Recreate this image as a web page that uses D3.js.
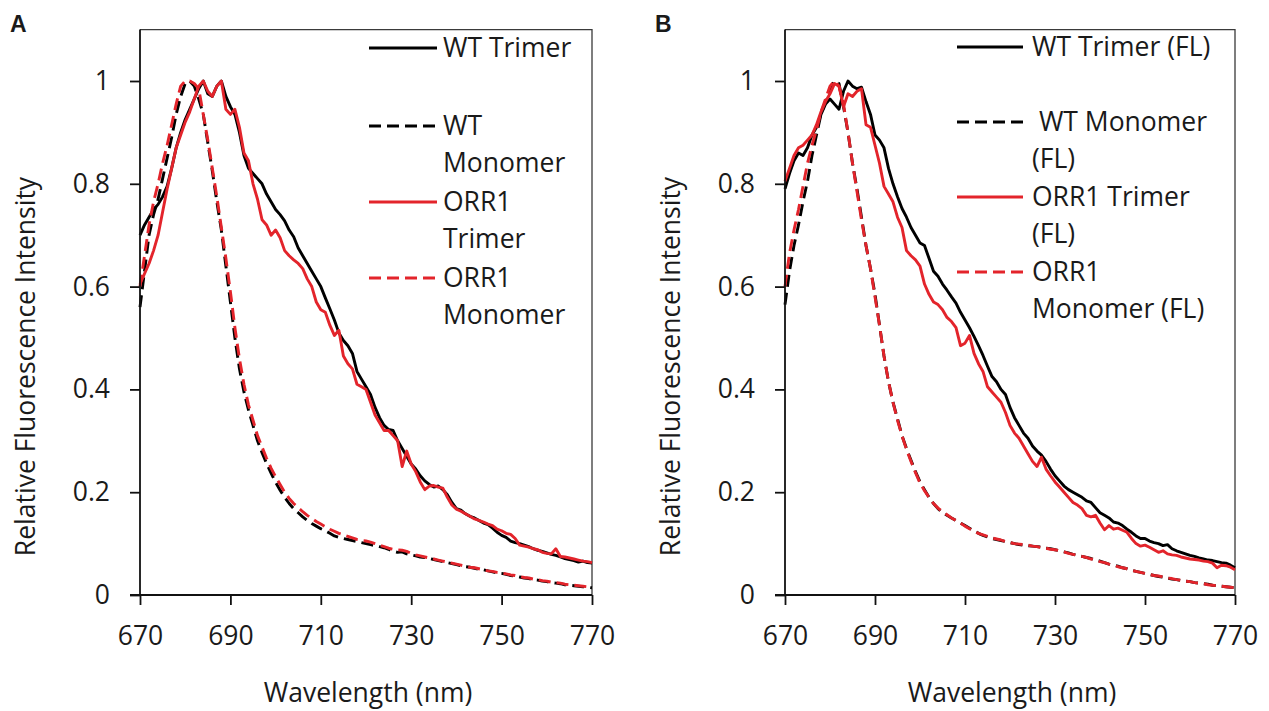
<!DOCTYPE html>
<html>
<head>
<meta charset="utf-8">
<script src="https://cdn.jsdelivr.net/npm/d3@7"></script>
<style>
  html, body { margin: 0; padding: 0; background: #fff; }
  svg { display: block; }
  text { font-family: "Open Sans", sans-serif; fill: #1a1a1a; white-space: pre; }
</style>
</head>
<body>
<svg id="chart" width="1269" height="711"></svg>
<script>
// ---------- DATA ----------
const wavelengths = d3.range(670, 771, 1); // sampling grid, nm
const xTicks = [670, 690, 710, 730, 750, 770];
const yTicks = [0, 0.2, 0.4, 0.6, 0.8, 1];
const yTickLabels = ["0", "0.2", "0.4", "0.6", "0.8", "1"];
const panelLetters = ["A", "B"];
const xTitle = "Wavelength (nm)";
const yTitle = "Relative Fluorescence Intensity";

const legendA = [["WT Trimer"], ["WT", "Monomer"], ["ORR1", "Trimer"], ["ORR1", "Monomer"]];
const legendB = [["WT Trimer (FL)"], [" WT Monomer", "(FL)"], ["ORR1 Trimer", "(FL)"], ["ORR1", "Monomer (FL)"]];

const wtTrimerA = [
  0.70, 0.72, 0.735, 0.75, 0.76, 0.775, 0.795, 0.83, 0.87, 0.90,
  0.925, 0.945, 0.965, 0.985, 1.0, 0.975, 0.97, 0.99, 1.0, 0.97,
  0.95, 0.935, 0.90, 0.855, 0.83, 0.82, 0.81, 0.80, 0.78, 0.765,
  0.75, 0.74, 0.728, 0.71, 0.697, 0.675, 0.66, 0.645, 0.63, 0.615,
  0.60, 0.578, 0.557, 0.535, 0.51, 0.495, 0.485, 0.47, 0.435, 0.42,
  0.405, 0.39, 0.365, 0.345, 0.33, 0.322, 0.32, 0.30, 0.285, 0.27,
  0.255, 0.245, 0.232, 0.222, 0.215, 0.21, 0.212, 0.205, 0.195, 0.18,
  0.168, 0.165, 0.158, 0.153, 0.15, 0.145, 0.14, 0.137, 0.13, 0.122,
  0.116, 0.112, 0.105, 0.102, 0.10, 0.097, 0.094, 0.09, 0.087, 0.085,
  0.082, 0.079, 0.077, 0.074, 0.071, 0.069, 0.067, 0.064, 0.066, 0.063,
  0.062];
const wtMonomerA = [
  0.56, 0.63, 0.70, 0.74, 0.77, 0.81, 0.85, 0.89, 0.935, 0.97,
  0.995, 1.0, 0.99, 0.965, 0.935, 0.88, 0.825, 0.765, 0.71, 0.64,
  0.57, 0.50, 0.44, 0.395, 0.36, 0.33, 0.30, 0.277, 0.256, 0.237,
  0.219, 0.204, 0.19, 0.178, 0.168, 0.16, 0.152, 0.145, 0.139, 0.134,
  0.129, 0.125, 0.12, 0.115, 0.112, 0.11, 0.108, 0.106, 0.104, 0.102,
  0.10, 0.098, 0.096, 0.094, 0.092, 0.089, 0.085, 0.083, 0.084, 0.08,
  0.078, 0.076, 0.074, 0.073, 0.071, 0.069, 0.067, 0.065, 0.063, 0.061,
  0.059, 0.057, 0.055, 0.054, 0.052, 0.05, 0.049, 0.047, 0.045, 0.043,
  0.042, 0.04, 0.038, 0.037, 0.035, 0.033, 0.032, 0.03, 0.029, 0.027,
  0.026, 0.024, 0.023, 0.022, 0.02, 0.019, 0.018, 0.017, 0.016, 0.015,
  0.014];
const orrTrimerA = [
  0.605, 0.625, 0.645, 0.67, 0.70, 0.745, 0.79, 0.83, 0.87, 0.895,
  0.92, 0.94, 0.965, 0.99, 1.0, 0.98, 0.97, 0.99, 1.0, 0.945,
  0.935, 0.945, 0.91, 0.86, 0.845, 0.80, 0.77, 0.73, 0.72, 0.70,
  0.71, 0.695, 0.67, 0.66, 0.652, 0.645, 0.635, 0.615, 0.60, 0.57,
  0.555, 0.55, 0.525, 0.505, 0.515, 0.465, 0.45, 0.44, 0.41, 0.405,
  0.40, 0.375, 0.35, 0.335, 0.32, 0.32, 0.31, 0.30, 0.25, 0.28,
  0.255, 0.24, 0.22, 0.205, 0.212, 0.213, 0.21, 0.208, 0.19, 0.175,
  0.167, 0.163, 0.158, 0.153, 0.148, 0.145, 0.142, 0.138, 0.135, 0.128,
  0.125, 0.12, 0.118, 0.11, 0.097, 0.095, 0.093, 0.09, 0.088, 0.083,
  0.081, 0.08, 0.09, 0.075, 0.074, 0.072, 0.07, 0.068, 0.066, 0.065,
  0.063];
const orrMonomerA = [
  0.60, 0.66, 0.72, 0.765, 0.80, 0.84, 0.875, 0.915, 0.955, 0.99,
  1.0, 1.0, 0.995, 0.985, 0.935, 0.885, 0.83, 0.775, 0.715, 0.655,
  0.59, 0.52, 0.46, 0.41, 0.37, 0.34, 0.31, 0.288, 0.266, 0.247,
  0.23, 0.215, 0.20, 0.188, 0.178, 0.17, 0.162, 0.155, 0.149, 0.143,
  0.138, 0.133, 0.128, 0.124, 0.12, 0.117, 0.114, 0.111, 0.108, 0.106,
  0.105, 0.103, 0.10, 0.097, 0.094, 0.091, 0.089, 0.088, 0.087, 0.085,
  0.081, 0.078, 0.076, 0.074, 0.072, 0.07, 0.068, 0.066, 0.064, 0.062,
  0.06, 0.058, 0.056, 0.054, 0.053, 0.051, 0.049, 0.047, 0.046, 0.044,
  0.043, 0.041, 0.039, 0.038, 0.036, 0.034, 0.033, 0.031, 0.03, 0.028,
  0.027, 0.025, 0.024, 0.023, 0.021, 0.02, 0.019, 0.018, 0.017, 0.016,
  0.014];

const wtTrimerB = [
  0.79, 0.82, 0.845, 0.86, 0.855, 0.87, 0.895, 0.91, 0.935, 0.955,
  0.965, 0.955, 0.945, 0.98, 1.0, 0.99, 0.985, 0.988, 0.96, 0.935,
  0.895, 0.885, 0.87, 0.83, 0.80, 0.775, 0.752, 0.735, 0.715, 0.70,
  0.685, 0.68, 0.655, 0.63, 0.62, 0.605, 0.593, 0.58, 0.568, 0.55,
  0.535, 0.52, 0.503, 0.485, 0.466, 0.445, 0.425, 0.415, 0.40, 0.39,
  0.365, 0.345, 0.33, 0.315, 0.305, 0.29, 0.28, 0.272, 0.26, 0.245,
  0.232, 0.222, 0.212, 0.205, 0.20, 0.195, 0.19, 0.183, 0.18, 0.17,
  0.16, 0.155, 0.15, 0.142, 0.14, 0.135, 0.128, 0.122, 0.115, 0.11,
  0.11, 0.105, 0.102, 0.10, 0.096, 0.098, 0.09, 0.086, 0.083, 0.08,
  0.077, 0.075, 0.072, 0.07, 0.068, 0.067, 0.065, 0.063, 0.062, 0.058,
  0.053];
const wtMonomerB = [
  0.565, 0.63, 0.68, 0.72, 0.765, 0.805, 0.855, 0.895, 0.935, 0.96,
  0.985, 1.0, 0.995, 0.95, 0.90, 0.84, 0.79, 0.735, 0.68, 0.635,
  0.585, 0.525, 0.465, 0.415, 0.375, 0.343, 0.31, 0.285, 0.262, 0.24,
  0.22, 0.205, 0.19, 0.178, 0.168, 0.16, 0.155, 0.15, 0.145, 0.14,
  0.135, 0.13, 0.125, 0.12, 0.116, 0.113, 0.11, 0.108, 0.106, 0.104,
  0.102, 0.1, 0.098, 0.097, 0.096, 0.095, 0.094, 0.093, 0.091, 0.09,
  0.088, 0.086, 0.084, 0.082, 0.079, 0.077, 0.075, 0.073, 0.071, 0.068,
  0.066, 0.063, 0.06, 0.058, 0.056, 0.053, 0.051, 0.048, 0.046, 0.044,
  0.042, 0.04, 0.038, 0.036, 0.035, 0.033, 0.031, 0.03, 0.028, 0.027,
  0.026, 0.024, 0.023, 0.022, 0.021, 0.019, 0.018, 0.017, 0.016, 0.015,
  0.014];
const orrTrimerB = [
  0.805, 0.83, 0.855, 0.87, 0.875, 0.885, 0.895, 0.915, 0.94, 0.96,
  0.975, 0.995, 0.99, 0.95, 0.975, 0.97, 0.98, 0.985, 0.915, 0.91,
  0.875, 0.84, 0.795, 0.78, 0.765, 0.735, 0.715, 0.67, 0.66, 0.652,
  0.64, 0.605, 0.585, 0.57, 0.565, 0.555, 0.54, 0.532, 0.52, 0.485,
  0.49, 0.505, 0.47, 0.45, 0.435, 0.405, 0.395, 0.385, 0.375, 0.355,
  0.33, 0.315, 0.305, 0.29, 0.275, 0.26, 0.25, 0.268, 0.245, 0.232,
  0.22, 0.21, 0.2, 0.19, 0.18, 0.175, 0.168, 0.155, 0.152, 0.155,
  0.14, 0.127, 0.135, 0.128, 0.13, 0.126, 0.122, 0.11, 0.1, 0.095,
  0.097, 0.093, 0.088, 0.083, 0.086, 0.08, 0.078, 0.077, 0.074, 0.072,
  0.07, 0.069, 0.068, 0.066, 0.065, 0.062, 0.053, 0.058, 0.057, 0.054,
  0.049];
const orrMonomerB = [
  0.60, 0.665, 0.71, 0.75, 0.795, 0.84, 0.875, 0.905, 0.94, 0.965,
  0.99, 1.0, 0.99, 0.955, 0.90, 0.84, 0.785, 0.73, 0.68, 0.635,
  0.58, 0.525, 0.465, 0.415, 0.375, 0.34, 0.31, 0.283, 0.26, 0.238,
  0.218, 0.203, 0.19, 0.178, 0.169, 0.162, 0.156, 0.15, 0.145, 0.14,
  0.134, 0.129, 0.124, 0.12, 0.117, 0.114, 0.111, 0.109, 0.107, 0.104,
  0.102, 0.1, 0.099, 0.098, 0.097, 0.095, 0.094, 0.092, 0.091, 0.089,
  0.088, 0.086, 0.084, 0.081, 0.079, 0.077, 0.075, 0.073, 0.07, 0.068,
  0.065, 0.063, 0.06, 0.058, 0.055, 0.053, 0.051, 0.048, 0.046, 0.044,
  0.042, 0.04, 0.038, 0.037, 0.035, 0.033, 0.032, 0.03, 0.029, 0.027,
  0.026, 0.024, 0.023, 0.022, 0.02, 0.019, 0.018, 0.017, 0.016, 0.015,
  0.014];

// ---------- STYLE / LAYOUT ----------
const BLACK = "#000000", RED = "#e3242b";
const FS = 26.5;
const LW = 2.9;
const seriesStyle = [
  { color: BLACK, dash: null },
  { color: BLACK, dash: "12,6" },
  { color: RED, dash: null },
  { color: RED, dash: "12,6" }
];

const panels = [
  { letter: panelLetters[0], x0: 140, x1: 592, series: [wtTrimerA, wtMonomerA, orrTrimerA, orrMonomerA],
    legend: legendA, legLine: [369, 437], legText: 443, legRows: [48, 126, 202, 278], legLH: 37,
    letterX: 10, yTitleX: 35 },
  { letter: panelLetters[1], x0: 785, x1: 1235, series: [wtTrimerB, wtMonomerB, orrTrimerB, orrMonomerB],
    legend: legendB, legLine: [957, 1023], legText: 1032, legRows: [47, 122, 197, 272], legLH: 37,
    letterX: 655, yTitleX: 680 }
];
const yBottom = 595, yTopVal = 1.1, yOne = 81;

const svg = d3.select("#chart");

panels.forEach(p => {
  const x = d3.scaleLinear().domain([670, 770]).range([p.x0, p.x1]);
  const y = d3.scaleLinear().domain([0, 1]).range([yBottom, yOne]);
  const yTop = y(yTopVal);
  const g = svg.append("g");

  // frame (top & right)
  g.append("path")
    .attr("d", `M${p.x0},${yTop}H${p.x1}V${yBottom}`)
    .attr("fill", "none").attr("stroke", "#3a3a3a").attr("stroke-width", 1.3);

  // series
  const line = d3.line().x((d, i) => x(wavelengths[i])).y(d => y(d));
  p.series.forEach((s, k) => {
    g.append("path").datum(s)
      .attr("d", line)
      .attr("fill", "none")
      .attr("stroke", seriesStyle[k].color)
      .attr("stroke-width", LW)
      .attr("stroke-linejoin", "round")
      .attr("stroke-dasharray", seriesStyle[k].dash);
  });

  // axes
  const xAxis = d3.axisBottom(x).tickValues(xTicks).tickSize(10).tickPadding(6).tickFormat(d3.format("d"));
  const gx = g.append("g").attr("transform", `translate(0,${yBottom})`).call(xAxis);
  const yAxis = d3.axisLeft(y).tickValues(yTicks).tickSize(10).tickPadding(20)
    .tickFormat((d, i) => yTickLabels[i]);
  const gy = g.append("g").attr("transform", `translate(${p.x0},0)`).call(yAxis);
  [gx, gy].forEach(a => {
    a.select(".domain").remove();
    a.selectAll(".tick line").attr("stroke", "#111").attr("stroke-width", 1.8);
    a.selectAll(".tick text").attr("font-size", FS).attr("font-family", "Open Sans").attr("fill", "#1a1a1a");
  });
  gx.selectAll(".tick text").attr("dy", null).attr("y", 50);
  // axis lines
  g.append("line").attr("x1", p.x0).attr("x2", p.x0).attr("y1", yTop).attr("y2", yBottom + 0.9)
    .attr("stroke", "#111").attr("stroke-width", 1.8);
  g.append("line").attr("x1", p.x0 - 10).attr("x2", p.x1).attr("y1", yBottom).attr("y2", yBottom)
    .attr("stroke", "#111").attr("stroke-width", 1.8);

  // axis titles
  g.append("text").attr("x", (p.x0 + p.x1) / 2 + 2).attr("y", 702)
    .attr("text-anchor", "middle").attr("font-size", FS).text(xTitle);
  g.append("text").attr("transform", `translate(${p.yTitleX},366.5) rotate(-90)`)
    .attr("text-anchor", "middle").attr("font-size", FS).text(yTitle);

  // panel letter
  svg.append("text").attr("x", p.letterX).attr("y", 32)
    .attr("font-weight", "bold").attr("font-size", 23)
    .style("font-family", "'Liberation Sans', Arial, sans-serif")
    .attr("fill", "#000").text(p.letter);

  // legend
  p.legend.forEach((lines, k) => {
    const ly = p.legRows[k];
    g.append("line").attr("x1", p.legLine[0]).attr("x2", p.legLine[1]).attr("y1", ly).attr("y2", ly)
      .attr("stroke", seriesStyle[k].color).attr("stroke-width", LW)
      .attr("stroke-dasharray", seriesStyle[k].dash);
    lines.forEach((t, j) => {
      g.append("text").attr("x", p.legText).attr("y", ly + j * p.legLH)
        .attr("dy", "0.35em").attr("font-size", FS).text(t);
    });
  });
});
</script>
</body>
</html>
